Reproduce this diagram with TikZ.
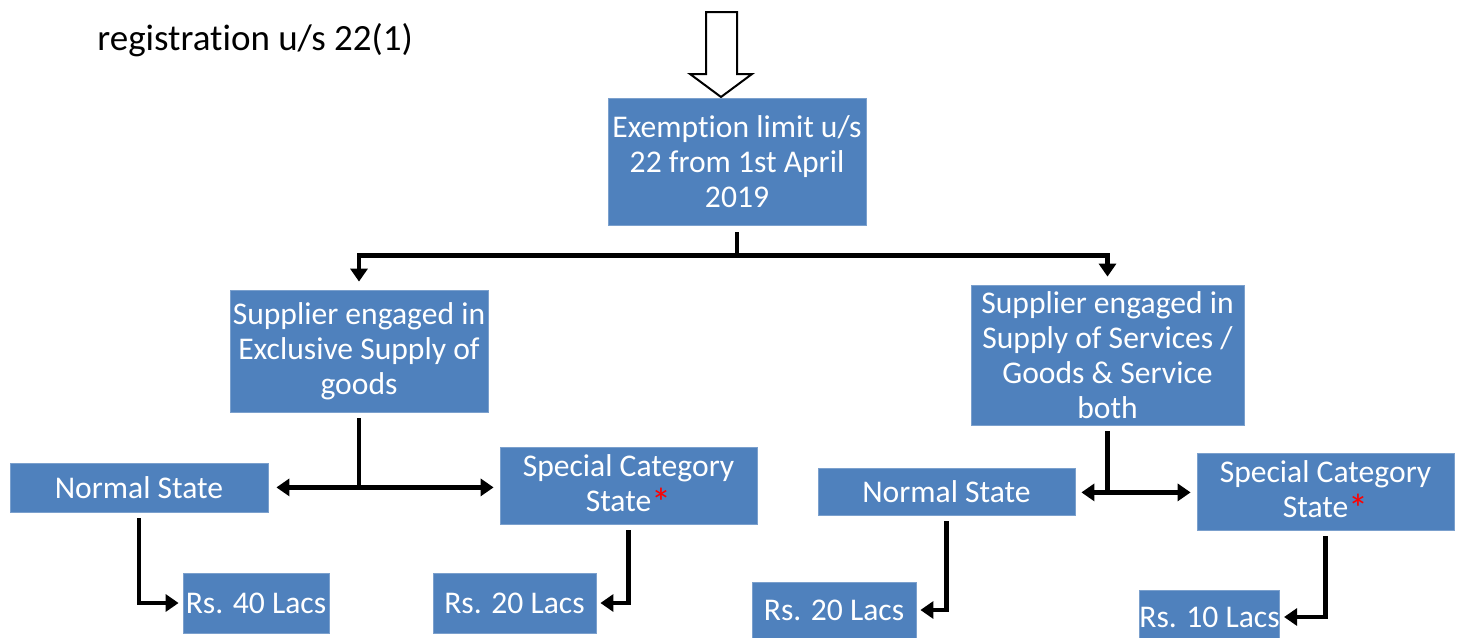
\documentclass[tikz,border=0pt]{standalone}
\usepackage{fontspec}
\setmainfont{Carlito}[Ligatures=NoCommon]
\usetikzlibrary{arrows.meta,positioning}
\definecolor{boxblue}{HTML}{4F81BD}
\newcommand{\redstar}{\textcolor{red}{\raisebox{-2.5pt}{\fontsize{20}{17.5}\selectfont*}}}

\begin{document}
\begin{tikzpicture}[
    x=0.5pt, y=-0.5pt,
    box/.style={
        fill=boxblue,
        draw=boxblue!75!white,
        text=white,
        align=center,
        inner sep=0pt,
        font=\fontsize{15.8}{17.5}\selectfont
    },
    link/.style={line width=2.2pt},
    arr/.style={-{Triangle[length=6.5pt,width=8.5pt]}, line width=2.2pt}
]
    \clip (0,0) rectangle (1459,637);
    \useasboundingbox (0,0) rectangle (1459,637);

    %% heading
    \node[font=\fontsize{18.5}{22}\selectfont, anchor=west, inner sep=0pt] (heading) at (97,40) {registration u/s 22(1)};
    \draw[line width=1pt, fill=white] (706,12) -- (706,74) -- (690,74) -- (721,97)
        -- (752,74) -- (737,74) -- (737,12) -- cycle;

    %% top level
    \node[box, minimum width=129pt, minimum height=63.5pt] (exempt) at (737,161.5)
        {Exemption limit u/s\\22 from 1st April\\2019};

    %% suppliers
    \node[box, minimum width=129pt, minimum height=61pt] (supL) at (359,351)
        {Supplier engaged in\\Exclusive Supply of\\goods};
    \node[box, minimum width=136.5pt, minimum height=70pt] (supR) at (1107.5,355)
        {Supplier engaged in\\Supply of Services /\\Goods \& Service\\both};

    %% states
    \node[box, minimum width=129pt, minimum height=24.5pt] (normalL) at (139,487.5) {Normal State};
    \node[box, minimum width=128.5pt, minimum height=38.5pt] (specialL) at (628.5,485.5)
        {Special Category\\State\redstar};
    \node[box, minimum width=128.5pt, minimum height=23.5pt] (normalR) at (946.5,491.5) {Normal State};
    \node[box, minimum width=128.5pt, minimum height=38.5pt] (specialR) at (1325.5,491.5)
        {Special Category\\State\redstar};

    %% limits
    \node[box, minimum width=73pt, minimum height=30pt] (rs40) at (256,603) {Rs. 40 Lacs};
    \node[box, minimum width=81.5pt, minimum height=30pt] (rs20L) at (514.5,603) {Rs. 20 Lacs};
    \node[box, minimum width=82pt, minimum height=28pt] (rs20R) at (834,610) {Rs. 20 Lacs};
    \node[box, minimum width=69.5pt, minimum height=27pt] (rs10) at (1209.5,617) {Rs. 10 Lacs};

    %% connectors
    \draw[link, shorten <=3.5pt] (exempt.south) -- ++(0,30) coordinate (split);
    \draw[arr, shorten >=4pt] (split) -| (supL.north);
    \draw[arr, shorten >=4pt] (split) -| (supR.north);

    \draw[link, shorten <=3pt] (supL.south) -- ++(0,75) coordinate (splitL);
    \draw[arr, shorten >=4pt] (splitL) -- (splitL -| normalL.east);
    \draw[arr, shorten >=3pt] (splitL) -- (splitL -| specialL.west);

    \draw[link, shorten <=3pt] (supR.south) -- ++(0,67) coordinate (splitR);
    \draw[arr, shorten >=3pt] (splitR) -- (splitR -| normalR.east);
    \draw[arr, shorten >=3pt] (splitR) -- (splitR -| specialR.west);

    \draw[arr, shorten <=3pt, shorten >=2pt] (normalL.south) |- (rs40.west);
    \draw[arr, shorten <=3pt, shorten >=2pt] (specialL.south) |- (rs20L.east);
    \draw[arr, shorten <=3pt, shorten >=2pt] (normalR.south) |- (rs20R.east);
    \draw[arr, shorten <=3pt, shorten >=2pt] (specialR.south) |- (rs10.east);
\end{tikzpicture}
\end{document}
